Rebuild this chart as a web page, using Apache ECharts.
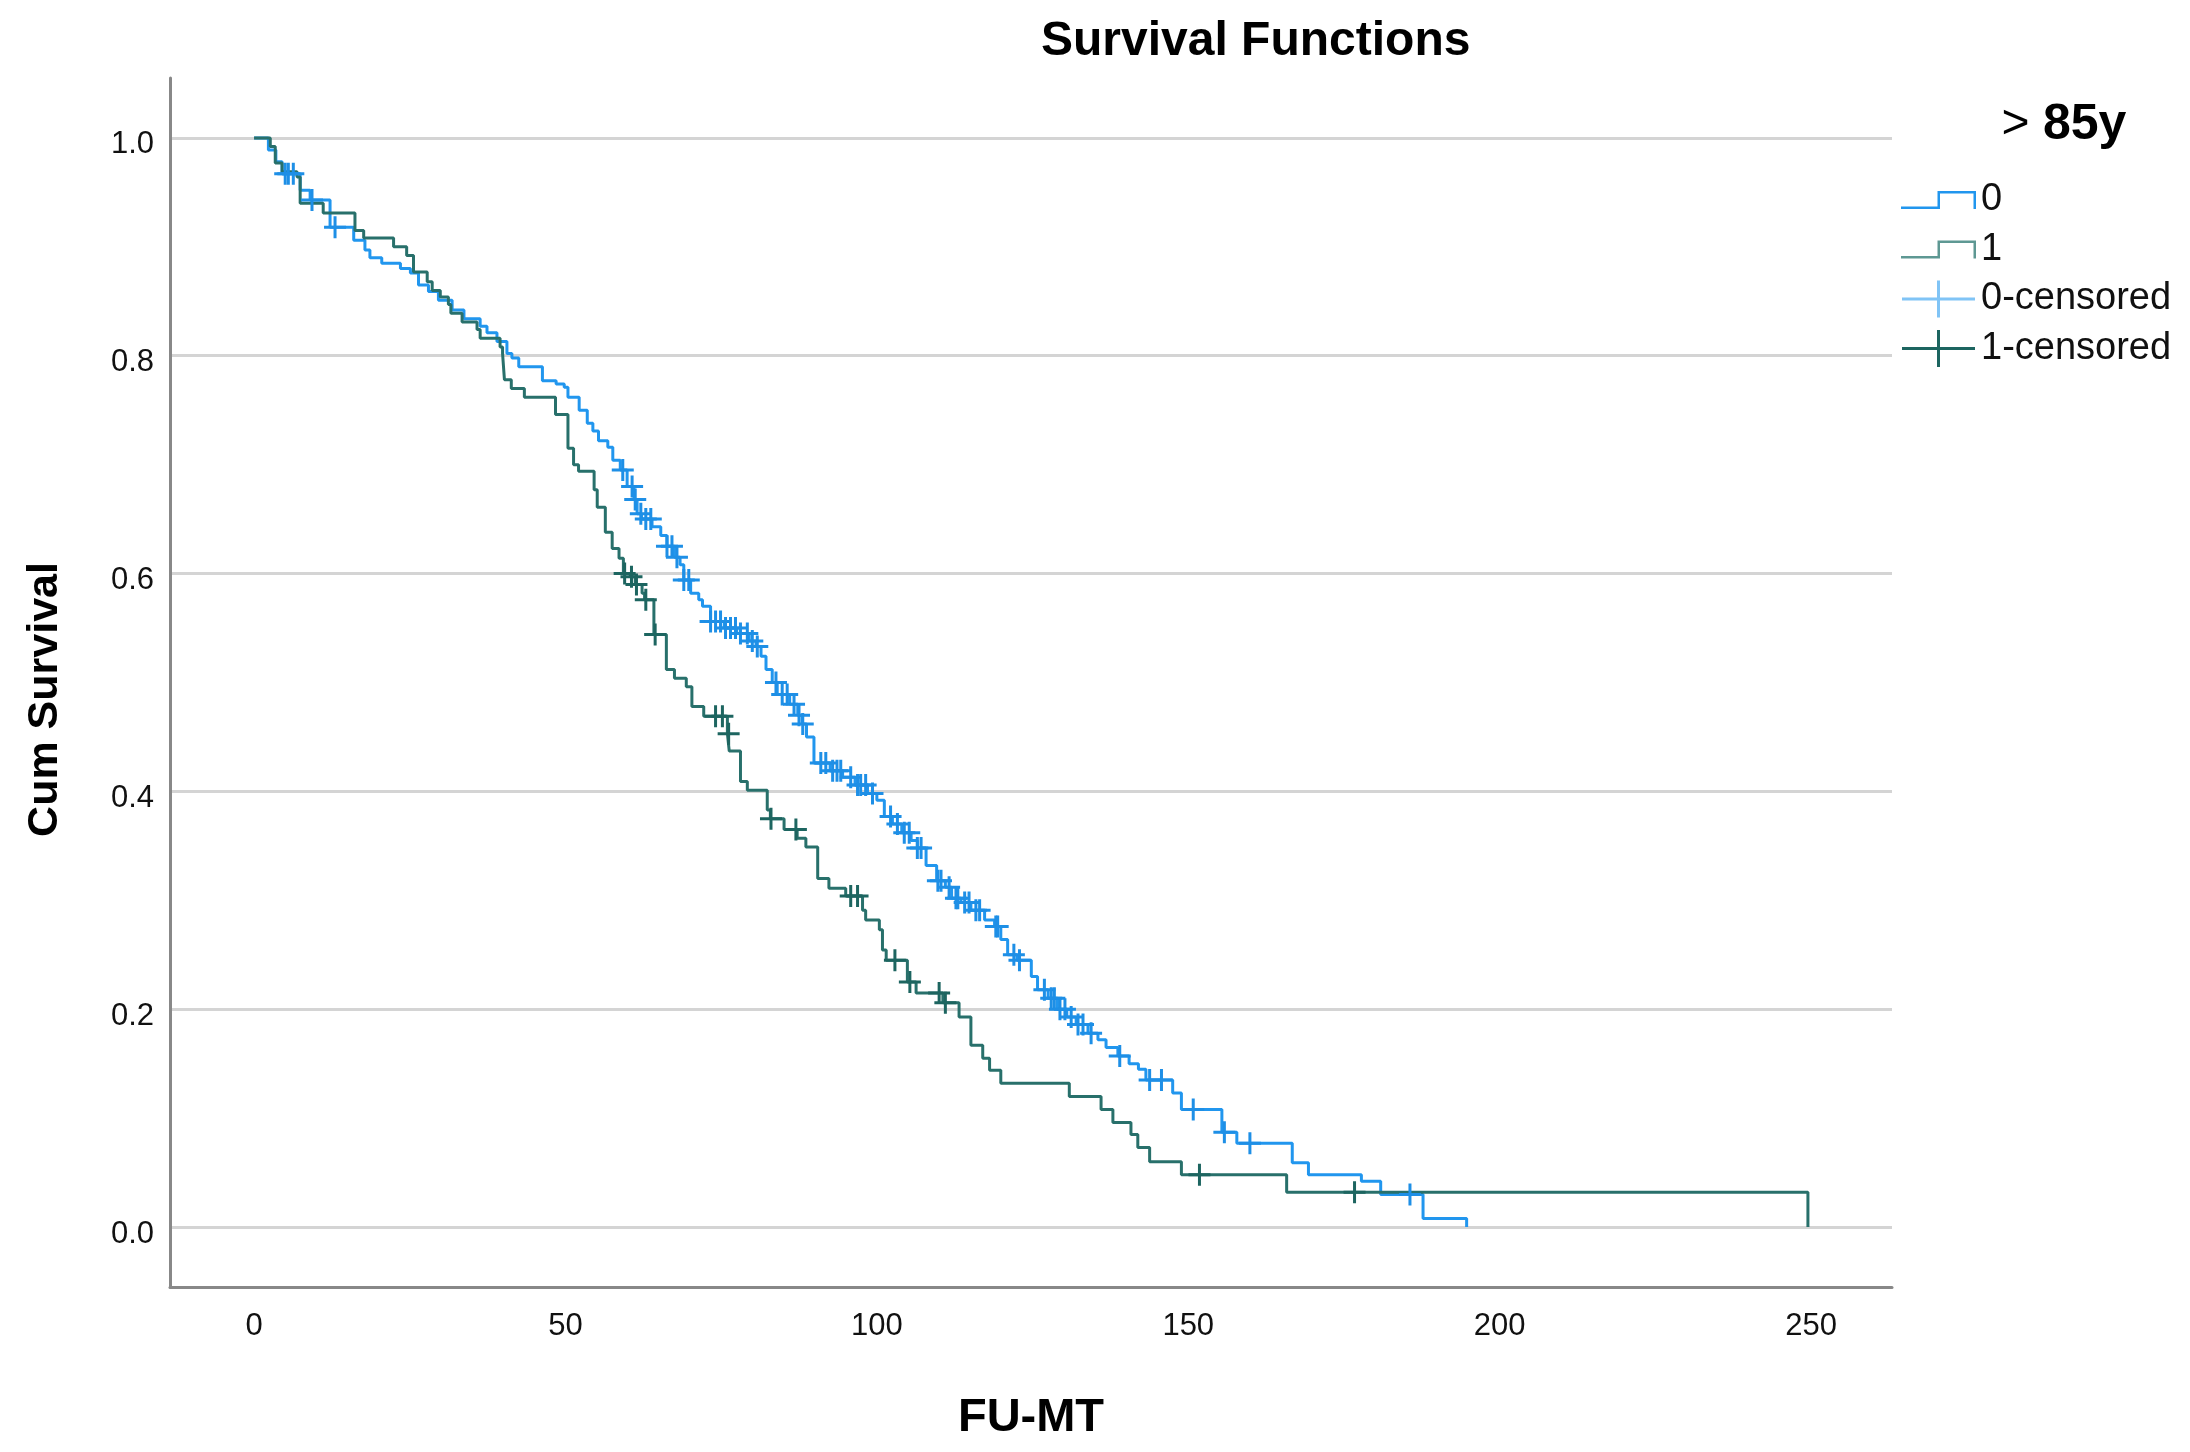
<!DOCTYPE html>
<html><head><meta charset="utf-8">
<script src="https://cdn.jsdelivr.net/npm/echarts@6/dist/echarts.min.js"></script>
<style>html,body{margin:0;padding:0;background:#fff}#c{width:2190px;height:1452px}</style>
</head><body><div id="c"></div>
<script>
// Group ">85y = 0" Kaplan-Meier steps (time, cumulative survival after event)
const time0 = [0,2.3,3.5,4.5,7.4, 9.0,12.2,16.0,17.8,18.6, 20.5,23.5,25.1,26.4,28.0, 29.6,31.8,33.7,36.3,37.4, 39.0,40.6,41.4,42.5,46.3, 48.5,49.8,50.4,52.2,53.5, 54.4,55.3,56.8,57.6,58.8, 59.9,61.0,61.5,62.2,63.9, 65.3,66.3,67.5,68.4,69.0, 70.1,71.4,72.0,73.3,75.5, 77.5,79.5,80.6,81.4,82.2, 83.2,84.0,86.0,87.3,88.0, 88.7,89.9,92.5,94.5,96.5, 98.5,100.0,101.2,102.5,104.0, 105.5,106.5,107.9,109.6,111.0, 112.0,113.5,115.1,117.3,118.9, 119.9,121.0,122.5,124.8,125.8, 127.5,129.0,130.5,132.0,133.9, 135.5,136.8,138.7,140.5,142.0, 143.2,147.5,148.9,155.4,157.8, 166.7,169.3,177.8,180.9,187.7, 194.7];
const surv0 = [1.0,0.989,0.978,0.967,0.952, 0.943,0.918,0.906,0.897,0.890, 0.885,0.880,0.876,0.865,0.859, 0.851,0.842,0.834,0.827,0.821, 0.813,0.802,0.798,0.790,0.777, 0.774,0.771,0.762,0.750,0.738, 0.731,0.722,0.716,0.704,0.695, 0.680,0.668,0.655,0.650,0.643, 0.635,0.625,0.615,0.608,0.594, 0.582,0.576,0.570,0.556,0.550, 0.545,0.538,0.533,0.524,0.512, 0.500,0.489,0.480,0.470,0.462, 0.450,0.426,0.419,0.413,0.406, 0.398,0.392,0.377,0.370,0.362, 0.355,0.348,0.332,0.318,0.312, 0.302,0.298,0.291,0.282,0.276, 0.264,0.250,0.245,0.230,0.218, 0.210,0.200,0.193,0.186,0.178, 0.172,0.165,0.157,0.150,0.145, 0.135,0.123,0.108,0.087,0.077, 0.059,0.048,0.042,0.030,0.008, 0.0];
// Group ">85y = 1"
const time1 = [0,2.6,3.4,4.5,6.9, 7.4,11.1,16.2,17.6,22.4, 24.5,25.6,27.8,28.6,29.9, 31.2,31.6,33.4,35.8,36.3, 39.5,39.9,40.2,41.3,43.4, 48.4,50.4,51.3,52.1,54.6, 55.1,56.4,57.5,58.6,59.3, 60.4,61.2,62.3,62.7,64.2, 66.2,67.5,69.4,70.3,72.2, 76.0,76.3,78.1,79.2,82.4, 82.9,85.1,87.2,88.6,90.5, 92.3,95.0,97.7,98.2,100.4, 100.9,101.5,104.9,106.3,110.6, 113.2,115.1,117.0,118.1,119.9, 130.9,136.0,137.9,140.8,141.9, 143.8,148.9,165.8,249.5];
const surv1 = [1.0,0.992,0.977,0.969,0.964, 0.940,0.931,0.915,0.908,0.900, 0.892,0.877,0.868,0.860,0.854, 0.847,0.839,0.831,0.824,0.816, 0.808,0.802,0.778,0.770,0.762, 0.746,0.715,0.700,0.694,0.677, 0.661,0.638,0.623,0.614,0.600, 0.597,0.590,0.582,0.576,0.544, 0.512,0.504,0.496,0.478,0.469, 0.453,0.437,0.409,0.401,0.383, 0.375,0.365,0.357,0.349,0.320, 0.311,0.304,0.291,0.282,0.273, 0.2545,0.245,0.225,0.215,0.206, 0.193,0.167,0.155,0.144,0.132, 0.120,0.108,0.096,0.085,0.073, 0.060,0.048,0.032,0.0];
// Censoring times
const cens0 = [5.0,5.5,6.3,9.3,13.0, 59.2,60.7,61.2,62.1,62.9,63.7,66.3,67.1,67.9,69.0,69.8, 73.3,74.1,74.9,75.7,76.5,77.3,78.1,79.2,80.0,80.8, 83.8,84.8,85.6,86.7,87.5,88.1, 91.0,91.8,92.9,93.6,94.2,95.8,96.9,97.4,98.2,99.3, 102.2,103.3,104.4,105.2,106.5,107.1, 109.8,110.3,111.6,112.7,113.0,114.1,114.8,115.9,116.5,119.1,119.4, 122.0,122.9,126.9,128.0,128.5,129.4,130.2,131.2,132.3,133.1,134.4,139.0,143.8,145.7,150.8,155.8,159.9,185.6];
const cens1 = [59.5,60.6,61.4,62.9,64.4,74.1,75.2,76.2,83.0,87.0,95.8,96.9,102.9,105.3,110.0,111.0,151.8,176.7];
const xTicks = [0,50,100,150,200,250];
const yTicks = [0,0.2,0.4,0.6,0.8,1.0];
const legendNames = ['0','1','0-censored','1-censored'];

const C0 = '#2196EE', C1 = '#28706B', C0c = '#1E8FE6', C1c = '#1D6560';
function pairs(t,s){return t.map((v,i)=>[v,s[i]]);}
function levelAt(t,s,x){let v=s[0];for(let i=0;i<t.length;i++){if(t[i]<=x)v=s[i];else break;}return v;}
const cross = 'path://M9.5,0h3v22h-3z M0,9.5h22v3h-22z';
const stepIcon = 'path://M0,15.5h39v2.5h-39z M36.5,0h2.5v18h-2.5z M36.5,0h38.5v2.5h-38.5z M72.5,0h2.5v18h-2.5z';
const crossIcon = 'path://M35,0h3v37h-3z M0,17h73v3h-73z';
const FF = 'Liberation Sans';

const chart = echarts.init(document.getElementById('c'), null, {renderer:'canvas'});
chart.setOption({
  animation:false,
  backgroundColor:'#fff',
  title:{text:'Survival Functions', left:1036, top:13, textStyle:{fontSize:48, fontWeight:'bold', color:'#000', fontFamily:FF}},
  grid:{left:170, right:298, top:78, bottom:165},
  legend:{orient:'vertical', left:1896, top:176, itemWidth:75, itemHeight:37, itemGap:11.5, symbolKeepAspect:true, selectedMode:false,
    textStyle:{fontSize:38, color:'#111', fontFamily:FF},
    data:[
      {name:legendNames[0], icon:stepIcon, itemStyle:{color:C0, borderWidth:0}},
      {name:legendNames[1], icon:stepIcon, itemStyle:{color:'#5E9893', borderWidth:0}},
      {name:legendNames[2], icon:crossIcon, itemStyle:{color:'#80C4F6', borderWidth:0}},
      {name:legendNames[3], icon:crossIcon, itemStyle:{color:C1c, borderWidth:0}}
    ]},
  graphic:[{type:'text', x:2064, y:125, style:{text:'{a|> }{b|85y}', align:'center', verticalAlign:'middle',
    rich:{a:{fontSize:48, fontFamily:FF, fill:'#000'}, b:{fontSize:50, fontWeight:'bold', fontFamily:FF, fill:'#000'}}}}],
  xAxis:{type:'value', min:-13.5, max:263, name:'FU-MT', nameLocation:'middle', nameGap:108,
    nameTextStyle:{fontSize:47, fontWeight:'bold', color:'#000', fontFamily:FF},
    axisLine:{show:true, onZero:false, lineStyle:{color:'#888', width:3}},
    axisTick:{show:false, customValues:xTicks},
    axisLabel:{customValues:xTicks, fontSize:31, margin:24, color:'#111', fontFamily:FF},
    splitLine:{show:false}},
  yAxis:{type:'value', min:-0.055, max:1.055, name:'Cum Survival', nameLocation:'middle', nameRotate:90, nameGap:103,
    nameTextStyle:{fontSize:43, fontWeight:'bold', color:'#000', fontFamily:FF, padding:[0,34,0,0]},
    axisLine:{show:true, onZero:false, lineStyle:{color:'#888', width:3}},
    axisTick:{show:false, customValues:yTicks},
    axisLabel:{customValues:yTicks, formatter:v=>v.toFixed(1), fontSize:31, margin:16, verticalAlign:'top', lineHeight:14, color:'#111', fontFamily:FF},
    splitLine:{show:true, lineStyle:{color:'#D4D4D4', width:3}}},
  series:[
    {name:legendNames[0], type:'line', step:'end', data:pairs(time0,surv0), showSymbol:false, color:C0, lineStyle:{width:3, color:C0}, z:2},
    {name:legendNames[1], type:'line', step:'end', data:pairs(time1,surv1), showSymbol:false, color:C1, lineStyle:{width:3, color:C1}, z:3},
    {name:legendNames[2], type:'scatter', symbol:cross, symbolSize:22, data:cens0.map(x=>[x, levelAt(time0,surv0,x)]), itemStyle:{color:C0c, opacity:1}, z:4},
    {name:legendNames[3], type:'scatter', symbol:cross, symbolSize:22, data:cens1.map(x=>[x, levelAt(time1,surv1,x)]), itemStyle:{color:C1c, opacity:1}, z:5}
  ]
});
</script></body></html>
